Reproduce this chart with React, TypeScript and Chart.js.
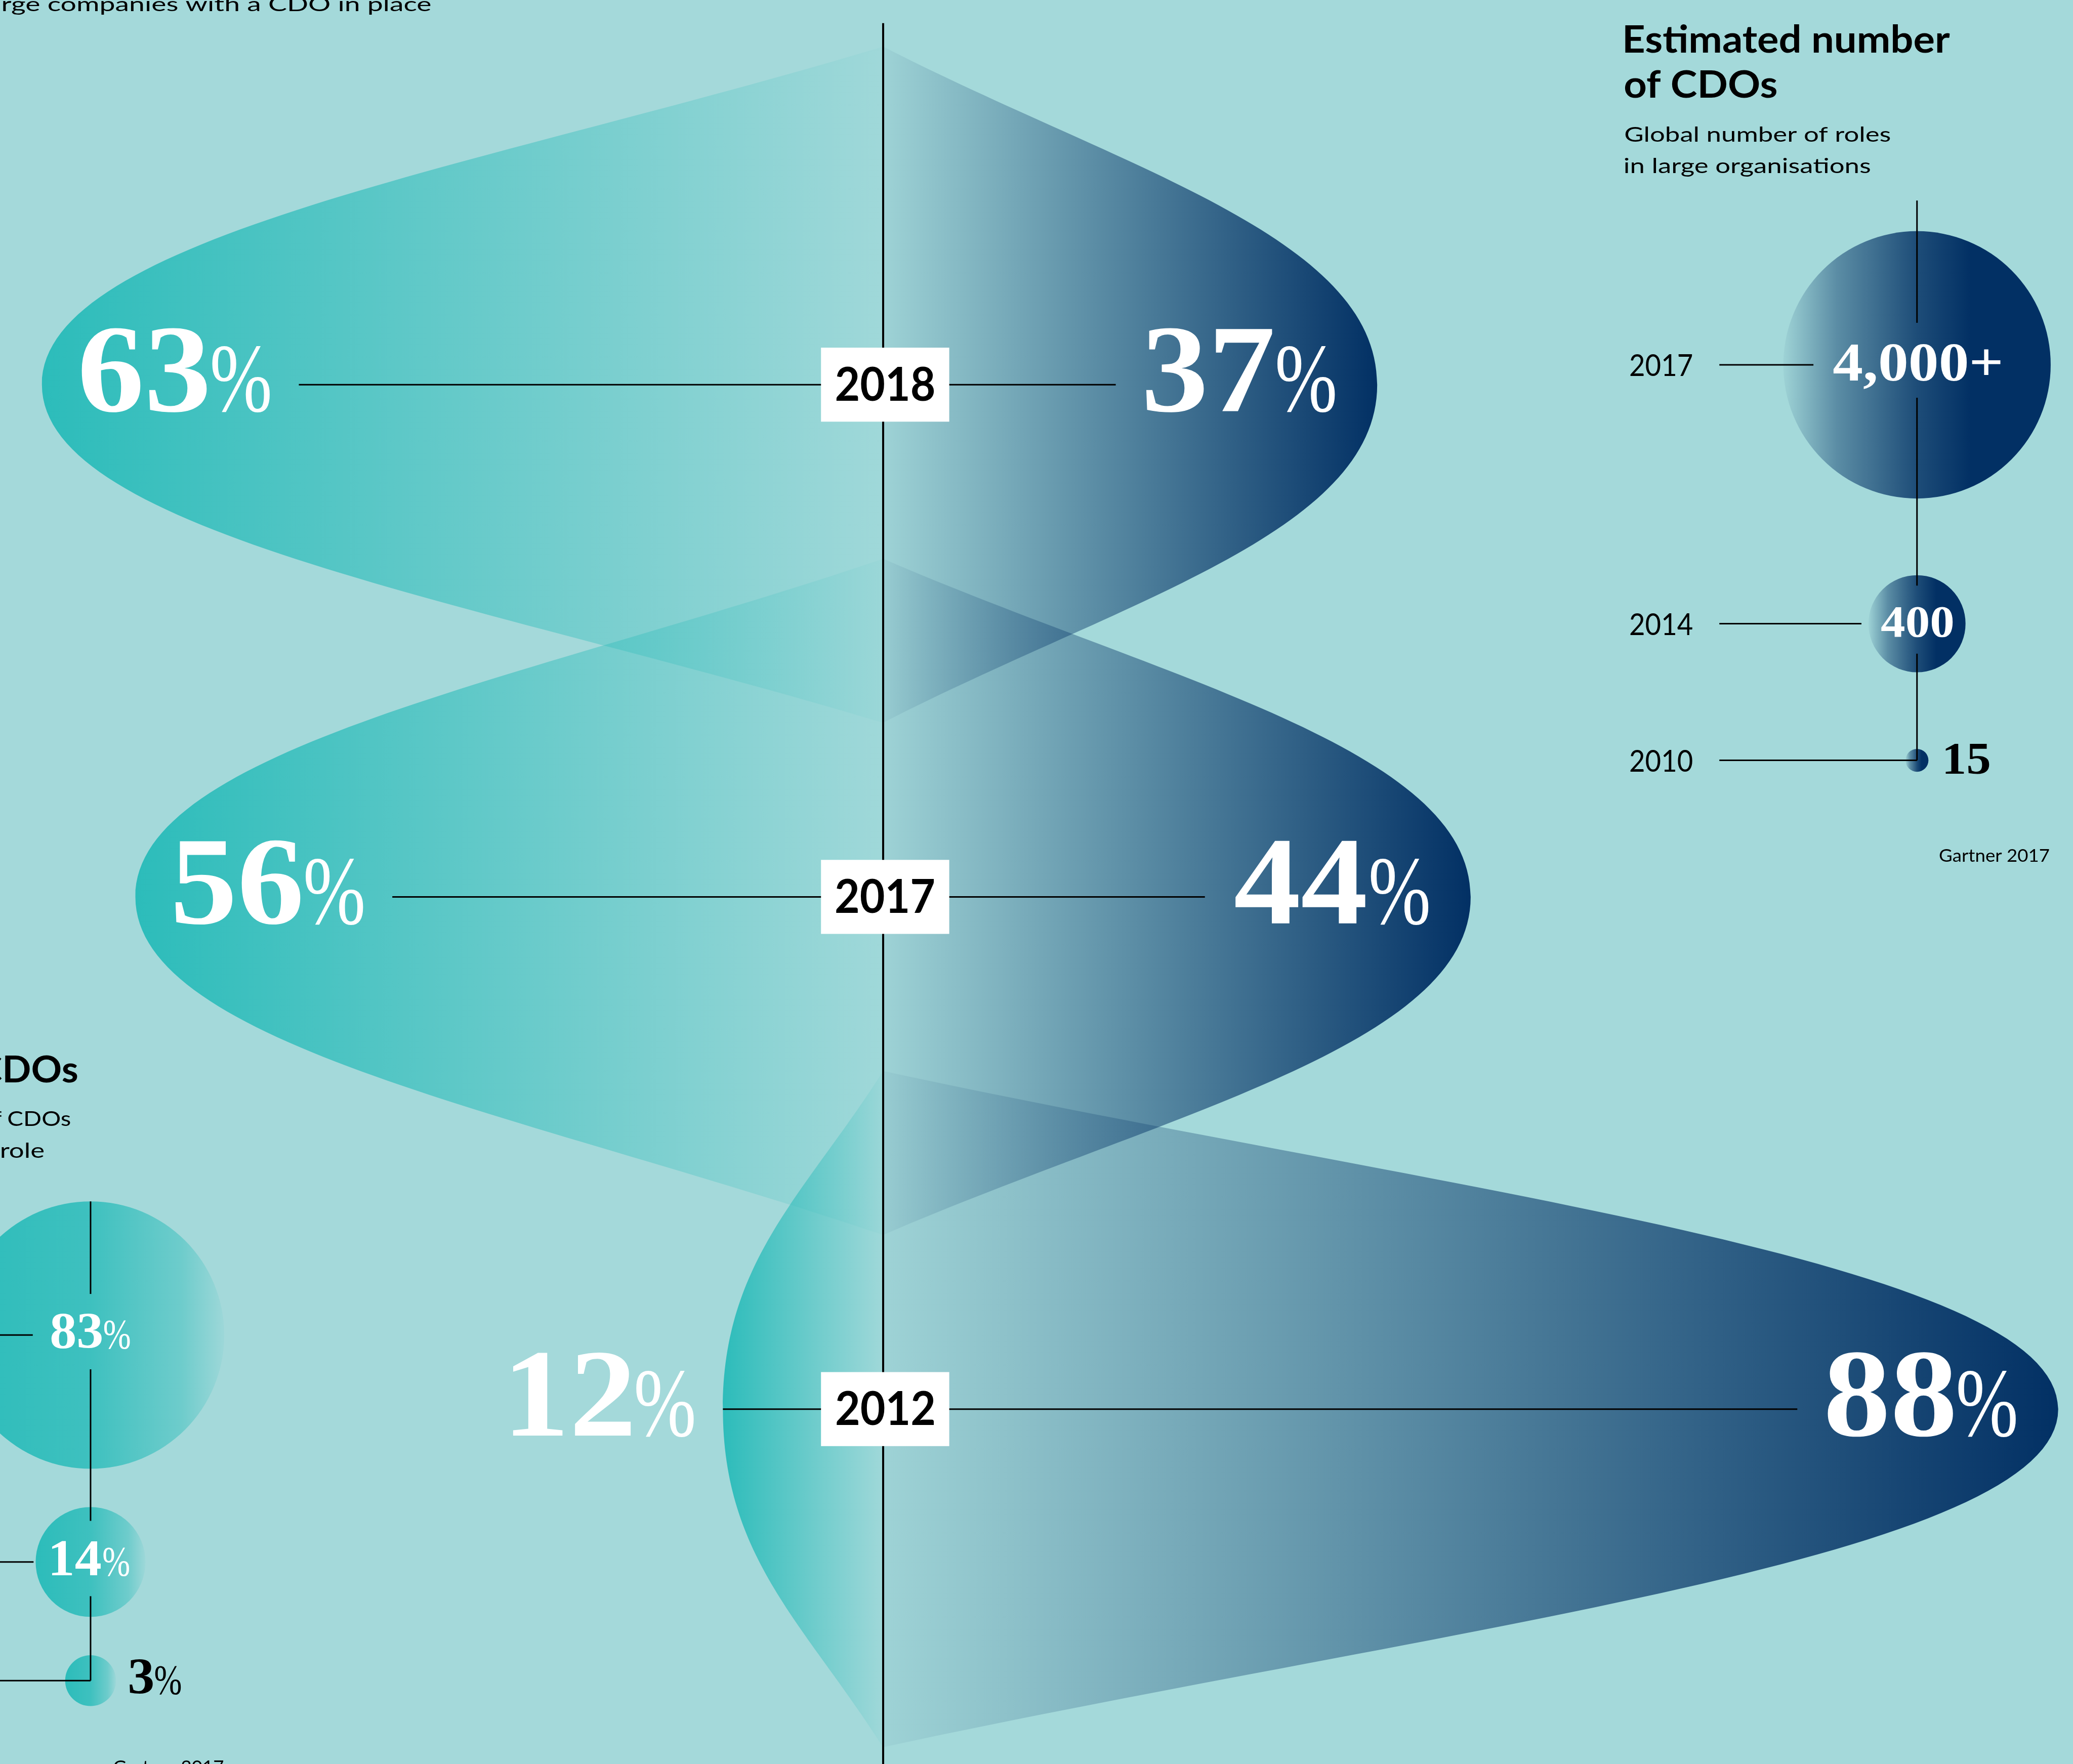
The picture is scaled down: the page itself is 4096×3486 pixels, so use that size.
import React, { useEffect, useRef } from 'react';
import { Chart, registerables } from 'chart.js';

Chart.register(...registerables);

// ---------------- data ----------------
const surveyYears = ['2018', '2017', '2012'];
const tealShares = [63, 56, 12];
const navyShares = [37, 44, 88];

const cdoYears = ['2017', '2014', '2010'];
const cdoCounts = [4000, 400, 15];
const cdoCountLabels = ['4,000+', '400', '15'];

const roleShares = [83, 14, 3];

// ---------------- text ----------------
const TOP_NOTE = 'rge companies with a CDO in place';
const RIGHT_TITLE = ['Estimated number', 'of CDOs'];
const RIGHT_SUB = ['Global number of roles', 'in large organisations'];
const LEFT_TITLE = 'CDOs';
const LEFT_SUB = ['of', 'CDOs', 'role'];
const SOURCE = 'Gartner 2017';

// ---------------- layout (reference frame 1568 wide) ----------------
const CW = 4096;
const CH = 3486;
const K = CW / 1568;
const UW = 1568;
const UH = CH / K;

const CENTER_X = 668;
const PX_PER_PCT = 10.1;
const ROW0_Y = 291;
const ROW_STEP = 387.5;
const LENS_HALF = 0.66;

const RP_X = 1450;
const RP_TOP_Y = 276;
const RP_GAP = 58;
const RP_LINE_TOP = 151.7;
const RP_LINE_LEFT = 1300.5;
const RP_YEAR_X = 1233;

const LP_X = 68.5;
const LP_TOP_Y = 1010;
const LP_GAP = 29;

const BG = '#a4d9da';
const TEAL = [44, 188, 186];
const NAVY = [2, 48, 100];
const rgba = (c: number[], a: number) => `rgba(${c[0]},${c[1]},${c[2]},${a})`;

const SANS = 'Lato, "Open Sans", sans-serif';
const SERIF = '"Liberation Serif", "DejaVu Serif", serif';

const rpR = cdoCounts.map((v) => 2.63 * Math.pow(v, 0.44));
const lpR = roleShares.map((p) => 11.1 * Math.sqrt(p));
function stack(y0: number, rs: number[], gap: number) {
  const out = [y0];
  for (let i = 1; i < rs.length; i++) out.push(out[i - 1] + rs[i - 1] + rs[i] + gap);
  return out;
}
const rpY = stack(RP_TOP_Y, rpR, RP_GAP);
const lpY = stack(LP_TOP_Y, lpR, LP_GAP);

const ok = (...v: number[]) => v.every((n) => Number.isFinite(n));

// ---------------- text helpers ----------------
function fontSizeFor(ctx: CanvasRenderingContext2D, family: string, weight: number, cap: number, ref: string) {
  ctx.save();
  ctx.font = `${weight} 200px ${family}`;
  const a = ctx.measureText(ref).actualBoundingBoxAscent;
  ctx.restore();
  return (cap * 200) / (a || 140);
}

type TextOpts = {
  family: string;
  weight: number;
  cap: number;
  capRef?: string;
  width?: number;
  sx?: number;
  align?: 'left' | 'right' | 'center';
  color?: string;
};

function drawText(ctx: CanvasRenderingContext2D, text: string, x: number, y: number, o: TextOpts) {
  const size = fontSizeFor(ctx, o.family, o.weight, o.cap, o.capRef || 'H');
  ctx.save();
  ctx.font = `${o.weight} ${size}px ${o.family}`;
  ctx.textAlign = 'left';
  ctx.textBaseline = 'alphabetic';
  const m = ctx.measureText(text);
  const L = m.actualBoundingBoxLeft;
  const R = m.actualBoundingBoxRight;
  const sx = o.width ? o.width / (L + R) : o.sx ?? 1;
  const align = o.align || 'left';
  const x0 = align === 'left' ? x + L * sx : align === 'right' ? x - R * sx : x - ((R - L) * sx) / 2;
  ctx.translate(x0, y);
  ctx.scale(sx, 1);
  ctx.fillStyle = o.color || '#000';
  ctx.fillText(text, 0, 0);
  ctx.restore();
  return sx;
}

type NumStyle = { cap: number; sx?: number; pctCap?: number; pctSx?: number };

function numParts(ctx: CanvasRenderingContext2D, digits: string, st: NumStyle) {
  const dSize = fontSizeFor(ctx, SERIF, 700, st.cap, '0');
  ctx.save();
  ctx.font = `700 ${dSize}px ${SERIF}`;
  const md = ctx.measureText(digits);
  ctx.restore();
  const dL = md.actualBoundingBoxLeft;
  const dR = md.actualBoundingBoxRight;
  let pSize = 0;
  let pL = 0;
  let pR = 0;
  if (st.pctCap) {
    pSize = fontSizeFor(ctx, SERIF, 400, st.pctCap, '%');
    ctx.save();
    ctx.font = `400 ${pSize}px ${SERIF}`;
    const mp = ctx.measureText('%');
    ctx.restore();
    pL = mp.actualBoundingBoxLeft;
    pR = mp.actualBoundingBoxRight;
  }
  const sx = st.sx ?? 1;
  const psx = st.pctSx ?? 1;
  const gap = st.pctCap ? dSize * 0.04 : 0;
  const dInk = (dL + dR) * sx;
  const pInk = st.pctCap ? (pL + pR) * psx : 0;
  const width = dInk + gap + pInk;
  const draw = (left: number, base: number, color: string) => {
    ctx.save();
    ctx.fillStyle = color;
    ctx.textAlign = 'left';
    ctx.textBaseline = 'alphabetic';
    ctx.font = `700 ${dSize}px ${SERIF}`;
    ctx.translate(left + dL * sx, base);
    ctx.scale(sx, 1);
    ctx.fillText(digits, 0, 0);
    ctx.restore();
    if (st.pctCap) {
      ctx.save();
      ctx.fillStyle = color;
      ctx.textAlign = 'left';
      ctx.textBaseline = 'alphabetic';
      ctx.font = `400 ${pSize}px ${SERIF}`;
      ctx.translate(left + dInk + gap + pL * psx, base);
      ctx.scale(psx, 1);
      ctx.fillText('%', 0, 0);
      ctx.restore();
    }
  };
  return { width, draw };
}

function line(ctx: CanvasRenderingContext2D, x1: number, y1: number, x2: number, y2: number, w: number) {
  ctx.save();
  ctx.strokeStyle = '#000';
  ctx.lineWidth = w;
  ctx.beginPath();
  ctx.moveTo(x1, y1);
  ctx.lineTo(x2, y2);
  ctx.stroke();
  ctx.restore();
}

function lens(ctx: CanvasRenderingContext2D, xc: number, xe: number, yc: number, h: number, fill: CanvasGradient) {
  const w = xe - xc;
  ctx.beginPath();
  ctx.moveTo(xc, yc - h);
  ctx.bezierCurveTo(xc + 0.48 * w, yc - h + 0.36 * h, xe, yc - h + 0.56 * h, xe, yc);
  ctx.bezierCurveTo(xe, yc + h - 0.56 * h, xc + 0.48 * w, yc + h - 0.36 * h, xc, yc + h);
  ctx.closePath();
  ctx.fillStyle = fill;
  ctx.fill();
}

// ---------------- plugins ----------------
const background = {
  id: 'bg',
  beforeDraw(chart: any) {
    const ctx = chart.ctx;
    ctx.save();
    ctx.fillStyle = BG;
    ctx.fillRect(0, 0, chart.width, chart.height);
    ctx.restore();
  },
};

const diagram = {
  id: 'diagram',
  beforeDatasetsDraw(chart: any) {
    const ctx: CanvasRenderingContext2D = chart.ctx;
    const xs = chart.scales.x;
    const ys = chart.scales.y;
    const xc = xs.getPixelForValue(0);
    const halfH = Math.abs(ys.getPixelForValue(LENS_HALF) - ys.getPixelForValue(0));
    if (!ok(xc, halfH)) return;
    ctx.save();
    surveyYears.forEach((_, i) => {
      const yc = ys.getPixelForValue(i);
      const xl = xs.getPixelForValue(-tealShares[i]);
      const xr = xs.getPixelForValue(navyShares[i]);
      if (!ok(yc, xl, xr)) return;
      const gl = ctx.createLinearGradient(xl, 0, xc, 0);
      gl.addColorStop(0, rgba(TEAL, 1));
      gl.addColorStop(1, rgba(TEAL, 0.04));
      lens(ctx, xc, xl, yc, halfH, gl);
      const gr = ctx.createLinearGradient(xc, 0, xr, 0);
      gr.addColorStop(0, rgba(NAVY, 0.04));
      gr.addColorStop(1, rgba(NAVY, 1));
      lens(ctx, xc, xr, yc, halfH, gr);
    });
    ctx.restore();
  },
  afterDatasetsDraw(chart: any) {
    const ctx: CanvasRenderingContext2D = chart.ctx;
    const xs = chart.scales.x;
    const ys = chart.scales.y;
    const xp = chart.scales.xp;
    const yp = chart.scales.yp;
    const xc = xs.getPixelForValue(0);
    if (!ok(xc)) return;

    // ---- main diagram ----
    line(ctx, xc, 17.5 * K, xc, CH, 4);
    const big: NumStyle = { cap: 63 * K, sx: 1.07, pctCap: 49 * K, pctSx: 0.77 };
    const yearSx = (() => {
      const size = fontSizeFor(ctx, SANS, 700, 25.6 * K, '0');
      ctx.save();
      ctx.font = `700 ${size}px ${SANS}`;
      const m = ctx.measureText(surveyYears[0]);
      ctx.restore();
      return (74 * K) / (m.actualBoundingBoxLeft + m.actualBoundingBoxRight);
    })();
    surveyYears.forEach((yr, i) => {
      const yc = ys.getPixelForValue(i);
      const base = yc + 20 * K;
      const xl = xs.getPixelForValue(-tealShares[i]);
      const xr = xs.getPixelForValue(navyShares[i]);
      const L = numParts(ctx, String(tealShares[i]), big);
      const R = numParts(ctx, String(navyShares[i]), big);
      let lLeft: number;
      let lineStart: number;
      if (xc - xl > L.width + 102 * K) {
        lLeft = xl + 30 * K;
        lineStart = lLeft + L.width + 22 * K;
      } else {
        lLeft = xl - 22 * K - L.width;
        lineStart = xl;
      }
      let rLeft: number;
      let lineEnd: number;
      if (xr - xc > R.width + 103 * K) {
        rLeft = xr - 32 * K - R.width;
        lineEnd = rLeft - 23 * K;
      } else {
        rLeft = xr + 22 * K;
        lineEnd = xr;
      }
      line(ctx, lineStart, yc, lineEnd, yc, 3);
      L.draw(lLeft, base, '#fff');
      R.draw(rLeft, base, '#fff');
      ctx.save();
      ctx.fillStyle = '#fff';
      ctx.fillRect(xc + 1.5 * K - 48.5 * K, yc - 28 * K, 97 * K, 56 * K);
      ctx.restore();
      drawText(ctx, yr, xc + 1.5 * K, yc + 12 * K, {
        family: SANS, weight: 700, cap: 25.6 * K, capRef: '0', sx: yearSx, align: 'center',
      });
    });

    // ---- top note ----
    drawText(ctx, TOP_NOTE, 2 * K, 8.6 * K, { family: SANS, weight: 400, cap: 10.8 * K, width: 324 * K });

    // ---- right panel: estimated number of CDOs ----
    const titleSx = drawText(ctx, RIGHT_TITLE[0], 1229 * K, 40 * K, {
      family: SANS, weight: 700, cap: 20.5 * K, width: 246 * K,
    });
    drawText(ctx, RIGHT_TITLE[1], 1229 * K, 73.8 * K, { family: SANS, weight: 700, cap: 20.5 * K, sx: titleSx });
    const subSx = drawText(ctx, RIGHT_SUB[0], 1229 * K, 107 * K, {
      family: SANS, weight: 400, cap: 11.3 * K, width: 201 * K,
    });
    drawText(ctx, RIGHT_SUB[1], 1229 * K, 131 * K, { family: SANS, weight: 400, cap: 11.3 * K, sx: subSx });

    const rcx = xp.getPixelForValue(RP_X);
    let segStart = RP_LINE_TOP * K;
    const rLabels = cdoCounts.map((_, i) => {
      const cy = yp.getPixelForValue(rpY[i]);
      const r = rpR[i] * K;
      const cap = rpR[i] > 60 ? 27.7 * K : 22.5 * K;
      const parts = numParts(ctx, cdoCountLabels[i], { cap, sx: 1.1 });
      const inside = parts.width < 1.8 * r;
      const left = inside ? rcx - parts.width / 2 : rcx + r + 13 * K;
      const base = cy + 0.43 * cap;
      return { cy, r, cap, parts, inside, left, base };
    });
    rLabels.forEach((lb) => {
      if (lb.inside) {
        line(ctx, rcx, segStart, rcx, lb.base - lb.cap - 16 * K, 3);
        segStart = lb.base + 13 * K;
      }
    });
    line(ctx, rcx, segStart, rcx, rLabels[rLabels.length - 1].cy, 3);
    let yrSx = 1;
    rLabels.forEach((lb, i) => {
      const end = lb.inside ? Math.min(rcx, lb.left - 15 * K) : rcx;
      line(ctx, RP_LINE_LEFT * K, lb.cy, end, lb.cy, 3);
      if (i === 0) {
        yrSx = drawText(ctx, cdoYears[i], RP_YEAR_X * K, lb.cy + 8.5 * K, {
          family: SANS, weight: 400, cap: 16.7 * K, capRef: '0', width: 47 * K,
        });
      } else {
        drawText(ctx, cdoYears[i], RP_YEAR_X * K, lb.cy + 8.5 * K, {
          family: SANS, weight: 400, cap: 16.7 * K, capRef: '0', sx: yrSx,
        });
      }
      lb.parts.draw(lb.left, lb.base, lb.inside ? '#fff' : '#000');
    });
    const srcSx = drawText(ctx, SOURCE, 1467 * K, 652 * K, {
      family: SANS, weight: 400, cap: 9.5 * K, width: 83 * K,
    });

    // ---- left panel ----
    drawText(ctx, LEFT_TITLE, 58.4 * K, 819 * K, {
      family: SANS, weight: 700, cap: 20.4 * K, width: 75 * K, align: 'right',
    });
    drawText(ctx, LEFT_SUB[0], 1.2 * K, 851.6 * K, {
      family: SANS, weight: 400, cap: 11.3 * K, sx: subSx, align: 'right',
    });
    drawText(ctx, LEFT_SUB[1], 53.4 * K, 851.6 * K, {
      family: SANS, weight: 400, cap: 11.3 * K, width: 47.5 * K, align: 'right',
    });
    drawText(ctx, LEFT_SUB[2], 33.4 * K, 876 * K, {
      family: SANS, weight: 400, cap: 11.3 * K, sx: subSx, align: 'right',
    });
    const lcx = xp.getPixelForValue(LP_X);
    const lLabels = roleShares.map((p, i) => {
      const cy = yp.getPixelForValue(lpY[i]);
      const r = lpR[i] * K;
      const cap = 26 * K;
      const parts = numParts(ctx, String(p), { cap, sx: 1.04, pctCap: 21 * K, pctSx: 0.8 });
      const inside = parts.width < 1.8 * r;
      const left = inside ? lcx - parts.width / 2 : lcx + r + 10 * K;
      const base = cy + 0.38 * cap;
      return { cy, r, cap, parts, inside, left, base };
    });
    let lSeg = lLabels[0].cy - lLabels[0].r;
    lLabels.forEach((lb) => {
      if (lb.inside) {
        line(ctx, lcx, lSeg, lcx, lb.base - lb.cap - 15 * K, 3);
        lSeg = lb.base + 16 * K;
      }
    });
    line(ctx, lcx, lSeg, lcx, lLabels[lLabels.length - 1].cy, 3);
    lLabels.forEach((lb) => {
      const end = lb.inside ? Math.min(lcx, lb.left - 14 * K) : lcx;
      line(ctx, 0, lb.cy, end, lb.cy, 3);
      lb.parts.draw(lb.left, lb.base, lb.inside ? '#fff' : '#000');
    });
    drawText(ctx, SOURCE, 86 * K, 1341.5 * K, { family: SANS, weight: 400, cap: 9.5 * K, sx: srcSx });
  },
};

// ---------------- bubble gradients ----------------
function navyBubble(c: any) {
  const raw = c.raw;
  const sc = c.chart && c.chart.scales && c.chart.scales.xp;
  if (!raw || !sc) return rgba(NAVY, 1);
  const cx = sc.getPixelForValue(raw.x);
  const r = raw.r;
  if (!ok(cx, r) || r <= 0) return rgba(NAVY, 1);
  const g = c.chart.ctx.createLinearGradient(cx - r, 0, cx + r, 0);
  g.addColorStop(0, rgba(NAVY, 0.04));
  g.addColorStop(0.2, rgba(NAVY, 0.45));
  g.addColorStop(0.5, rgba(NAVY, 0.83));
  g.addColorStop(0.7, rgba(NAVY, 1));
  g.addColorStop(1, rgba(NAVY, 1));
  return g;
}

function tealBubble(c: any) {
  const raw = c.raw;
  const sc = c.chart && c.chart.scales && c.chart.scales.xp;
  if (!raw || !sc) return rgba(TEAL, 1);
  const cx = sc.getPixelForValue(raw.x);
  const r = raw.r;
  if (!ok(cx, r) || r <= 0) return rgba(TEAL, 1);
  const g = c.chart.ctx.createLinearGradient(cx - r, 0, cx + r, 0);
  g.addColorStop(0, rgba(TEAL, 1));
  g.addColorStop(0.5, rgba(TEAL, 0.85));
  g.addColorStop(0.84, rgba(TEAL, 0.45));
  g.addColorStop(1, rgba(TEAL, 0.06));
  return g;
}

export default function App() {
  const ref = useRef<HTMLCanvasElement>(null);
  useEffect(() => {
    document.body.style.margin = '0';
    document.body.style.overflow = 'hidden';
    document.body.style.background = BG;
    const canvas = ref.current;
    if (!canvas) return;
    const chart = new Chart(canvas, {
      type: 'bubble',
      data: {
        datasets: [
          {
            label: 'Estimated number of CDOs',
            data: cdoCounts.map((v, i) => ({ x: RP_X, y: rpY[i], r: rpR[i] * K, v })),
            xAxisID: 'xp',
            yAxisID: 'yp',
            backgroundColor: navyBubble as any,
            borderWidth: 0,
            clip: false,
          },
          {
            label: 'Share of CDOs',
            data: roleShares.map((p, i) => ({ x: LP_X, y: lpY[i], r: lpR[i] * K, v: p })),
            xAxisID: 'xp',
            yAxisID: 'yp',
            backgroundColor: tealBubble as any,
            borderWidth: 0,
            clip: false,
          },
        ],
      },
      options: {
        animation: false,
        responsive: false,
        devicePixelRatio: 1,
        events: [],
        layout: { padding: 0, autoPadding: false },
        plugins: { legend: { display: false }, tooltip: { enabled: false } },
        scales: {
          x: { type: 'linear', display: false, min: -CENTER_X / PX_PER_PCT, max: (UW - CENTER_X) / PX_PER_PCT },
          y: { type: 'linear', display: false, reverse: true, min: -ROW0_Y / ROW_STEP, max: (UH - ROW0_Y) / ROW_STEP },
          xp: { type: 'linear', axis: 'x', display: false, min: 0, max: UW },
          yp: { type: 'linear', axis: 'y', display: false, reverse: true, min: 0, max: UH },
        },
      } as any,
      plugins: [background, diagram],
    });
    let alive = true;
    const fonts = [`700 40px ${SANS}`, `400 40px ${SANS}`, `700 40px ${SERIF}`, `400 40px ${SERIF}`];
    Promise.all(fonts.map((f) => document.fonts.load(f)))
      .then(() => {
        if (alive) chart.update();
      })
      .catch(() => {});
    return () => {
      alive = false;
      chart.destroy();
    };
  }, []);
  return (
    <div style={{ position: 'fixed', left: 0, top: 0, width: CW, height: CH }}>
      <canvas ref={ref} width={CW} height={CH} style={{ display: 'block', width: CW, height: CH }} />
    </div>
  );
}
